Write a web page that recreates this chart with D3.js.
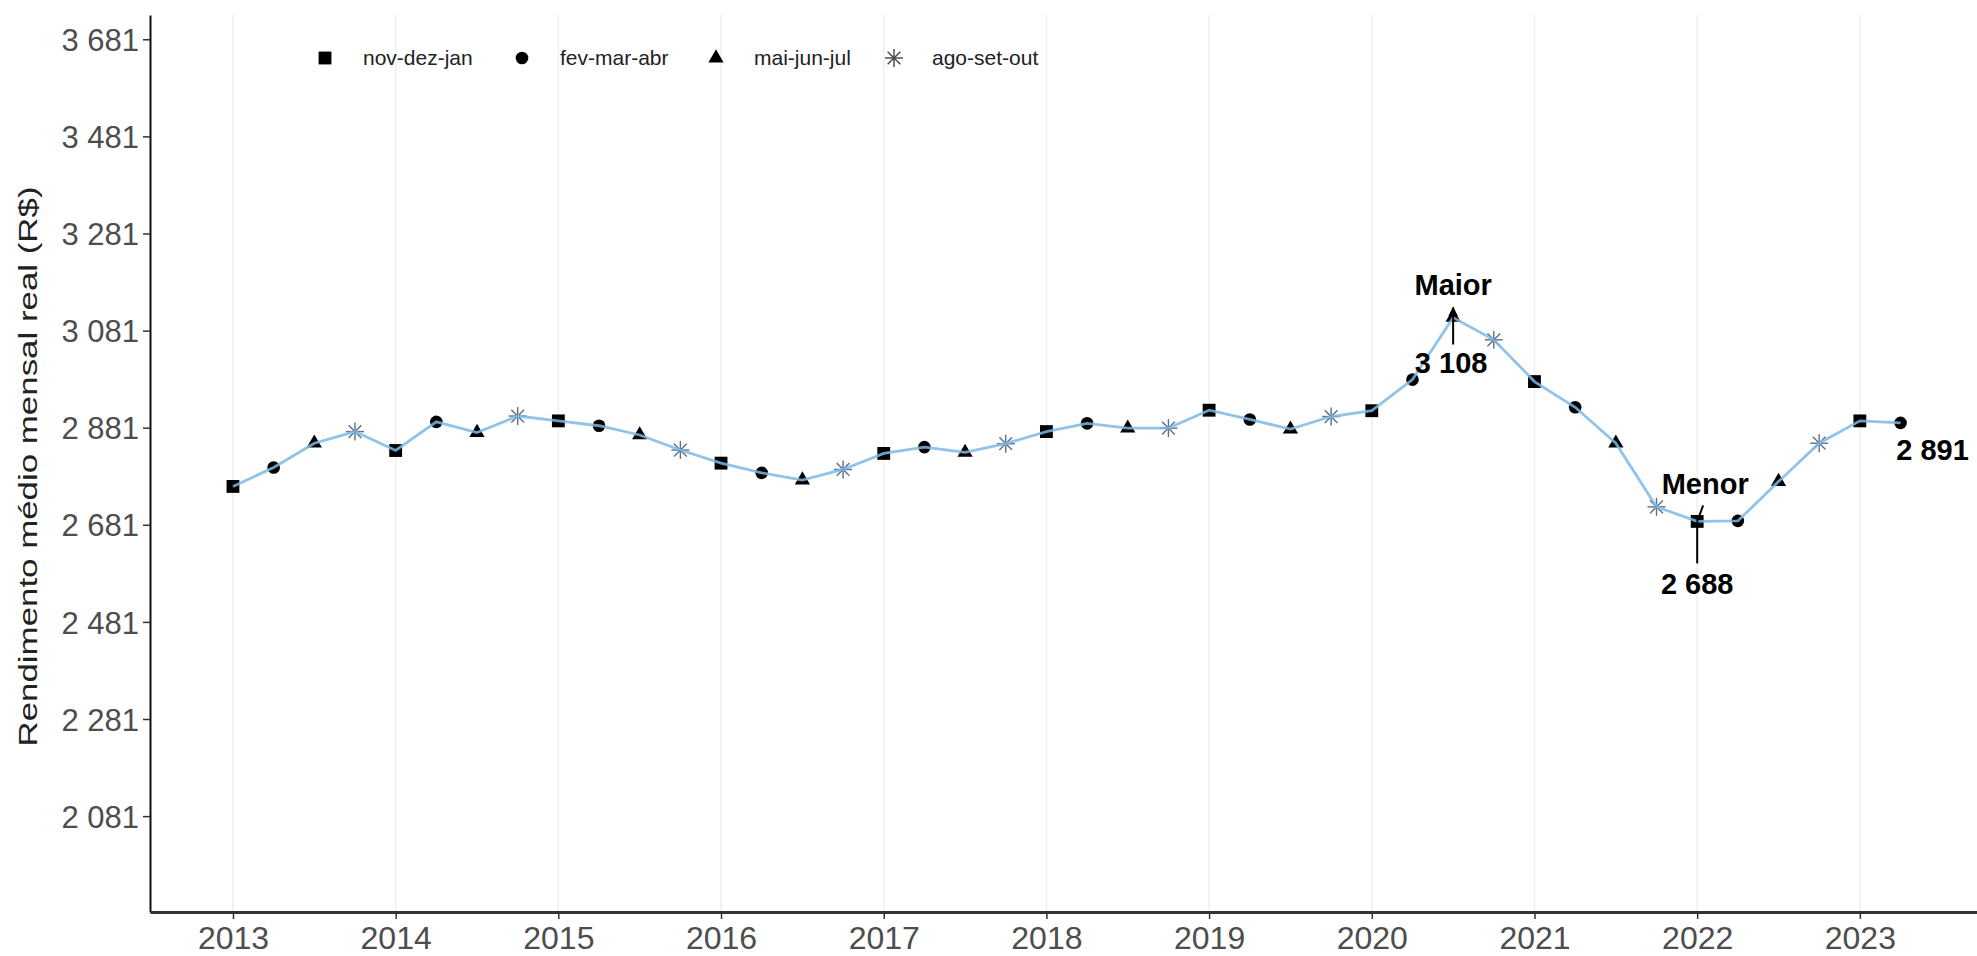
<!DOCTYPE html>
<html>
<head>
<meta charset="utf-8">
<script src="https://cdn.jsdelivr.net/npm/d3@7"></script>
<style>
  html, body { margin: 0; padding: 0; background: #ffffff; }
  svg { display: block; font-family: "Liberation Sans", Arial, sans-serif; }
</style>
</head>
<body>
<svg id="chart" width="1977" height="956"></svg>
<script>
// ---------- DATA ----------
const trimestres = [
  "nov-dez-jan 2013","fev-mar-abr 2013","mai-jun-jul 2013","ago-set-out 2013",
  "nov-dez-jan 2014","fev-mar-abr 2014","mai-jun-jul 2014","ago-set-out 2014",
  "nov-dez-jan 2015","fev-mar-abr 2015","mai-jun-jul 2015","ago-set-out 2015",
  "nov-dez-jan 2016","fev-mar-abr 2016","mai-jun-jul 2016","ago-set-out 2016",
  "nov-dez-jan 2017","fev-mar-abr 2017","mai-jun-jul 2017","ago-set-out 2017",
  "nov-dez-jan 2018","fev-mar-abr 2018","mai-jun-jul 2018","ago-set-out 2018",
  "nov-dez-jan 2019","fev-mar-abr 2019","mai-jun-jul 2019","ago-set-out 2019",
  "nov-dez-jan 2020","fev-mar-abr 2020","mai-jun-jul 2020","ago-set-out 2020",
  "nov-dez-jan 2021","fev-mar-abr 2021","mai-jun-jul 2021","ago-set-out 2021",
  "nov-dez-jan 2022","fev-mar-abr 2022","mai-jun-jul 2022","ago-set-out 2022",
  "nov-dez-jan 2023","fev-mar-abr 2023"
];
const rendimento = [
  2760, 2799, 2849, 2873,
  2834, 2893, 2871, 2905,
  2895, 2885, 2866, 2835,
  2808, 2788, 2773, 2795,
  2828, 2841, 2830, 2848,
  2873, 2890, 2880, 2880,
  2917, 2898, 2878, 2904,
  2916, 2980, 3108, 3062,
  2976, 2923, 2849, 2718,
  2688, 2689, 2770, 2849,
  2895, 2891
];
const grupos = ["nov-dez-jan", "fev-mar-abr", "mai-jun-jul", "ago-set-out"];
const anos = [2013, 2014, 2015, 2016, 2017, 2018, 2019, 2020, 2021, 2022, 2023];
const yTicks = [2081, 2281, 2481, 2681, 2881, 3081, 3281, 3481, 3681];
const yTitulo = "Rendimento médio mensal real (R$)";
const rotulos = { maior: "Maior", menor: "Menor" };

// ---------- BUILD ----------
(function () {
const locale = d3.formatLocale({ decimal: ",", thousands: " ", grouping: [3], currency: ["R$", ""] });
const fmt = locale.format(",d");

const data = trimestres.map((t, i) => {
  const grp = t.slice(0, 11), ano = +t.slice(12);
  const g = grupos.indexOf(grp);
  return { label: t, grupo: grp, gi: g, t: ano + g / 4, v: rendimento[i] };
});

const svg = d3.select("#chart");
const pL = 150, pR = 1977, pT = 15, pB = 912;

const x = d3.scaleLinear().domain([2012.49, 2023.72]).range([pL, pR]);
const y = d3.scaleLinear().domain([1883.5, 3731]).range([pB, pT]);

// grid (vertical, major years)
svg.append("g").selectAll("line").data(anos).join("line")
  .attr("x1", d => x(d)).attr("x2", d => x(d))
  .attr("y1", pT).attr("y2", pB)
  .attr("stroke", "#efefef").attr("stroke-width", 1.5);

// axes
const yAxis = svg.append("g").attr("transform", `translate(${pL},0)`)
  .call(d3.axisLeft(y).tickValues(yTicks).tickFormat(fmt).tickSize(7).tickSizeOuter(0));
yAxis.select(".domain").attr("stroke", "#111").attr("stroke-width", 2);
yAxis.selectAll(".tick line").attr("stroke", "#333").attr("stroke-width", 1.5);
yAxis.selectAll(".tick text").attr("fill", "#4d4d4d").attr("font-size", 31)
  .attr("x", -11).attr("dy", "0.36em").style("font-family", "'Liberation Sans', Arial, sans-serif");

const xAxis = svg.append("g").attr("transform", `translate(0,${pB})`)
  .call(d3.axisBottom(x).tickValues(anos).tickFormat(d3.format("d")).tickSize(7).tickSizeOuter(0));
xAxis.select(".domain").attr("stroke", "#333").attr("stroke-width", 3);
xAxis.selectAll(".tick line").attr("stroke", "#333").attr("stroke-width", 1.5);
xAxis.selectAll(".tick text").attr("fill", "#4d4d4d").attr("font-size", 32)
  .attr("y", 14).attr("dy", "0.71em").style("font-family", "'Liberation Sans', Arial, sans-serif");

// y title
svg.append("text")
  .attr("transform", `translate(37,${(pT + pB) / 2 + 3}) rotate(-90)`)
  .attr("text-anchor", "middle")
  .attr("font-size", 26).attr("fill", "#222")
  .attr("textLength", 560).attr("lengthAdjust", "spacingAndGlyphs")
  .text(yTitulo);

// markers
const symGen = [
  d3.symbol().type(d3.symbolSquare).size(165),
  d3.symbol().type(d3.symbolCircle).size(125),
  d3.symbol().type(d3.symbolTriangle).size(100),
];
function drawMarker(sel, gi, color) {
  if (gi < 3) {
    sel.append("path").attr("d", symGen[gi]()).attr("fill", color || "#000");
  } else {
    const r = 9;
    [0, 45, 90, 135].forEach(a => {
      const rad = a * Math.PI / 180;
      sel.append("line")
        .attr("x1", -r * Math.cos(rad)).attr("y1", -r * Math.sin(rad))
        .attr("x2", r * Math.cos(rad)).attr("y2", r * Math.sin(rad))
        .attr("stroke", color || "#5b6f88").attr("stroke-width", 1.4);
    });
  }
}

const mk = svg.append("g").selectAll("g").data(data).join("g")
  .attr("transform", d => `translate(${x(d.t)},${y(d.v)})`);
mk.each(function (d) { drawMarker(d3.select(this), d.gi); });

// line on top
svg.append("path").datum(data)
  .attr("fill", "none").attr("stroke", "#7db8e6").attr("stroke-width", 2.8).attr("stroke-opacity", 0.85)
  .attr("d", d3.line().x(d => x(d.t)).y(d => y(d.v)));

// legend
const legX = [325, 522, 716, 894];
const legY = 58;
const leg = svg.append("g").selectAll("g").data(grupos).join("g")
  .attr("transform", (d, i) => `translate(${legX[i]},${legY})`);
leg.each(function (d, i) { drawMarker(d3.select(this), i, i === 3 ? "#444" : "#000"); });
leg.append("text").attr("x", 38).attr("dy", "0.35em")
  .attr("font-size", 21).attr("fill", "#222").text(d => d);

// annotations
const iMax = d3.maxIndex(data, d => d.v);
const iMin = d3.minIndex(data, d => d.v);
const last = data[data.length - 1];
const dMax = data[iMax], dMin = data[iMin];

svg.append("defs").append("marker").attr("id", "arr")
  .attr("viewBox", "0 0 10 10").attr("refX", 9).attr("refY", 5)
  .attr("markerWidth", 5).attr("markerHeight", 5).attr("orient", "auto")
  .append("path").attr("d", "M0,0 L10,5 L0,10 Z").attr("fill", "#000");

const ann = svg.append("g").attr("font-weight", "bold").attr("fill", "#000");

const pxMax = x(dMax.t), pyMax = y(dMax.v);
ann.append("line").attr("x1", pxMax).attr("x2", pxMax)
  .attr("y1", pyMax + 27).attr("y2", pyMax - 10)
  .attr("stroke", "#000").attr("stroke-width", 2).attr("marker-end", "url(#arr)");
ann.append("text").attr("x", pxMax).attr("y", pyMax - 22).attr("text-anchor", "middle")
  .attr("font-size", 29).text(rotulos.maior);
ann.append("text").attr("x", pxMax - 2).attr("y", pyMax + 56).attr("text-anchor", "middle")
  .attr("font-size", 29).text(fmt(dMax.v));

const pxMin = x(dMin.t), pyMin = y(dMin.v);
ann.append("line").attr("x1", pxMin + 6).attr("y1", pyMin - 16)
  .attr("x2", pxMin).attr("y2", pyMin)
  .attr("stroke", "#000").attr("stroke-width", 2);
ann.append("line").attr("x1", pxMin).attr("y1", pyMin)
  .attr("x2", pxMin).attr("y2", pyMin + 42)
  .attr("stroke", "#000").attr("stroke-width", 2);
ann.append("text").attr("x", pxMin + 8).attr("y", pyMin - 27).attr("text-anchor", "middle")
  .attr("font-size", 29).text(rotulos.menor);
ann.append("text").attr("x", pxMin).attr("y", pyMin + 73).attr("text-anchor", "middle")
  .attr("font-size", 29).text(fmt(dMin.v));

ann.append("text").attr("x", x(last.t) + 32).attr("y", y(last.v) + 37).attr("text-anchor", "middle")
  .attr("font-size", 29).text(fmt(last.v));
})();
</script>
</body>
</html>
